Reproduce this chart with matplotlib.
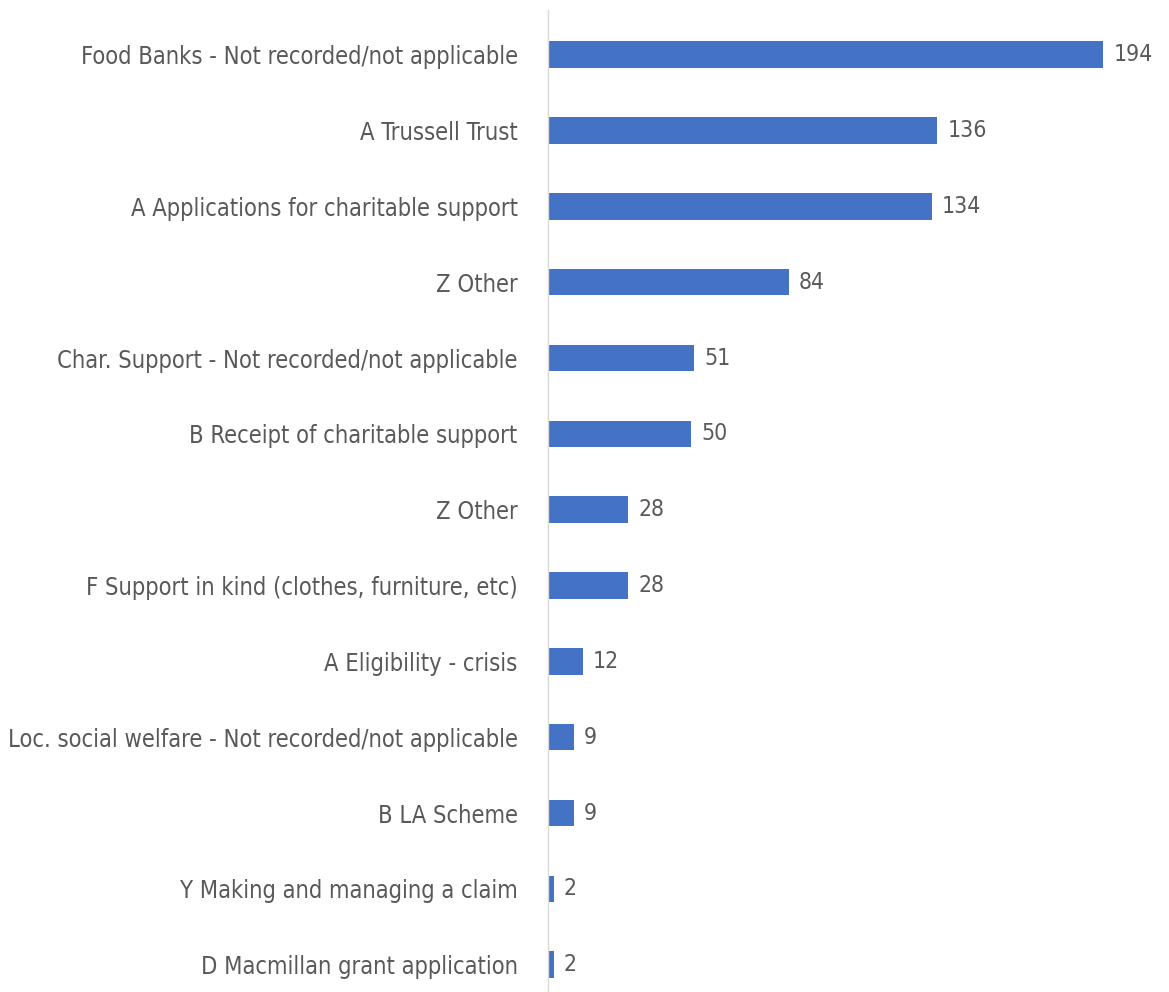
import numpy as np
import matplotlib.pyplot as plt

categories = [
    "Food Banks - Not recorded/not applicable",
    "A Trussell Trust",
    "A Applications for charitable support",
    "Z Other",
    "Char. Support - Not recorded/not applicable",
    "B Receipt of charitable support",
    "Z Other",
    "F Support in kind (clothes, furniture, etc)",
    "A Eligibility - crisis",
    "Loc. social welfare - Not recorded/not applicable",
    "B LA Scheme",
    "Y Making and managing a claim",
    "D Macmillan grant application",
]
values = [194, 136, 134, 84, 51, 50, 28, 28, 12, 9, 9, 2, 2]

plt.rcParams['font.family'] = ['DejaVu Sans']
plt.rcParams['font.stretch'] = 'condensed'

fig = plt.figure(figsize=(11.69, 9.92), dpi=100)
ax = fig.add_axes([0.469, 0.0, 0.514, 0.99])

y = np.arange(len(categories))
ax.barh(y, values, height=0.35, color='#4472C4')
for yi, v in zip(y, values):
    ax.text(v + 3.5, yi, str(v), va='center', ha='left', fontsize=16.5, color='#595959')

ax.set_yticks(y)
ax.set_yticklabels(categories, fontsize=17, color='#595959')
ax.tick_params(axis='y', length=0, pad=22)
ax.set_xticks([])
ax.set_xlim(0, 210)
ax.set_ylim(12.36, -0.59)
for s in ['top', 'right', 'bottom']:
    ax.spines[s].set_visible(False)
ax.spines['left'].set_color('#D9D9D9')
ax.spines['left'].set_linewidth(1)

fig.savefig('out.png', dpi=100)
